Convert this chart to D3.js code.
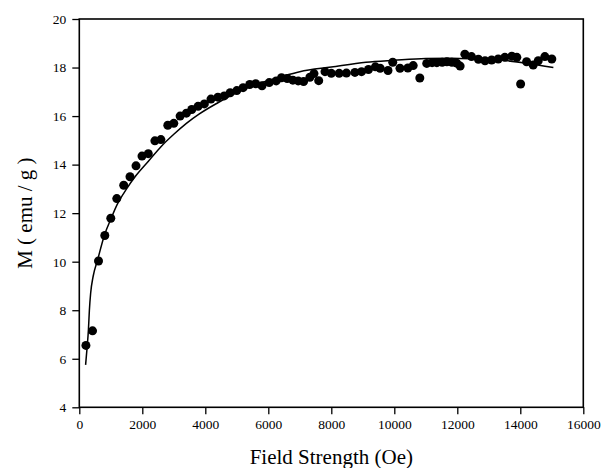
<!DOCTYPE html>
<html><head><meta charset="utf-8">
<script src="https://cdn.jsdelivr.net/npm/d3@7"></script>
<style>
html,body{margin:0;padding:0;background:#fff;}
svg{display:block;}
text{font-family:"Liberation Serif","Times New Roman",serif;fill:#000;}
</style></head>
<body>
<script>
// Measured data (Field strength in Oe, magnetization in emu/g)
const fieldOe = [210,420,610,810,1000,1190,1410,1610,1800,1990,2190,2400,2590,2810,3000,3200,3400,3570,3770,3970,
  4180,4400,4600,4790,5000,5200,5410,5600,5800,6030,6250,6420,6600,6780,6950,7120,7320,7450,7600,7800,
  8000,8250,8480,8750,8960,9180,9400,9550,9800,9950,10180,10430,10600,10810,11030,11200,11350,11520,11670,11830,
  11980,12090,12240,12450,12670,12880,13090,13300,13510,13730,13890,14010,14200,14410,14570,14780,15000];
const magnetization = [6.55,7.15,10.03,11.08,11.79,12.6,13.15,13.5,13.95,14.35,14.45,14.98,15.03,15.62,15.7,16.0,16.12,16.27,16.4,16.5,
  16.7,16.78,16.83,16.96,17.05,17.17,17.3,17.33,17.25,17.38,17.45,17.58,17.55,17.48,17.45,17.42,17.6,17.75,17.46,17.83,
  17.76,17.76,17.77,17.8,17.83,17.92,18.03,17.97,17.88,18.22,17.97,17.98,18.08,17.57,18.17,18.2,18.2,18.22,18.24,18.22,
  18.18,18.06,18.55,18.45,18.34,18.28,18.31,18.35,18.42,18.47,18.42,17.32,18.24,18.1,18.28,18.45,18.35];
// Fitted curve
const fitField = [200,250,290,320,360,440,580,800,1000,1200,1500,1800,2200,2600,3000,3400,3800,4400,5000,5600,
  6400,7000,8000,9100,10000,11000,11800,12600,13400,14200,15050];
const fitM = [5.75,6.5,7.2,8.0,8.7,9.4,10.07,11.1,11.75,12.35,13.0,13.55,14.15,14.75,15.25,15.7,16.08,16.55,16.97,17.3,
  17.62,17.83,18.02,18.22,18.3,18.37,18.38,18.35,18.3,18.18,18.0];
const xTicks = [0,2000,4000,6000,8000,10000,12000,14000,16000];
const yTicks = [4,6,8,10,12,14,16,18,20];
const xTitle = "Field Strength (Oe)";
const yTitle = "M ( emu / g )";

const W = 603, H = 468;
const m = {left:79.3, right:603-583.3, top:19, bottom:468-407.3};
const svg = d3.select("body").append("svg").attr("width",W).attr("height",H);

const x = d3.scaleLinear().domain([0,16000]).range([m.left, W-m.right]);
const y = d3.scaleLinear().domain([4,20]).range([H-m.bottom, m.top]);

// minor ticks
const xMinor = d3.range(1000,16000,2000);
const yMinor = d3.range(5,20,2);
const gx = svg.append("g").attr("transform",`translate(0,${y(4)})`);
gx.call(d3.axisBottom(x).tickValues(xMinor).tickSize(4).tickFormat(""));
gx.call(d3.axisBottom(x).tickValues(xTicks).tickSize(7).tickPadding(5).tickFormat(d3.format("d")));
gx.selectAll("path.domain").remove();
gx.selectAll("line").attr("stroke","#000").attr("stroke-width",1.3);
gx.selectAll("text").style("font-size","13.5px").attr("fill","#000");

const gy = svg.append("g").attr("transform",`translate(${x(0)},0)`);
gy.call(d3.axisLeft(y).tickValues(yMinor).tickSize(4).tickFormat(""));
gy.call(d3.axisLeft(y).tickValues(yTicks).tickSize(7).tickPadding(6).tickFormat(d3.format("d")));
gy.selectAll("path.domain").remove();
gy.selectAll("line").attr("stroke","#000").attr("stroke-width",1.3);
gy.selectAll("text").style("font-size","13.5px").attr("fill","#000");

// frame
svg.append("rect").attr("x",x(0)).attr("y",y(20)).attr("width",x(16000)-x(0)).attr("height",y(4)-y(20))
  .attr("fill","none").attr("stroke","#000").attr("stroke-width",1.6);

// fit line
const fit = fitField.map((f,i)=>[f,fitM[i]]);
svg.append("path").datum(fit)
  .attr("d", d3.line().x(d=>x(d[0])).y(d=>y(d[1])).curve(d3.curveMonotoneX))
  .attr("fill","none").attr("stroke","#000").attr("stroke-width",1.5);

// points
svg.append("g").selectAll("circle").data(fieldOe.map((f,i)=>[f,magnetization[i]])).join("circle")
  .attr("cx",d=>x(d[0])).attr("cy",d=>y(d[1])).attr("r",4.5).attr("fill","#000");

// titles
svg.append("text").attr("x",(x(0)+x(16000))/2).attr("y",464).attr("text-anchor","middle")
  .style("font-size","21px").text(xTitle);
svg.append("text").attr("transform",`translate(32,${(y(4)+y(20))/2}) rotate(-90)`).attr("text-anchor","middle")
  .style("font-size","21px").text(yTitle);
</script>
</body></html>
